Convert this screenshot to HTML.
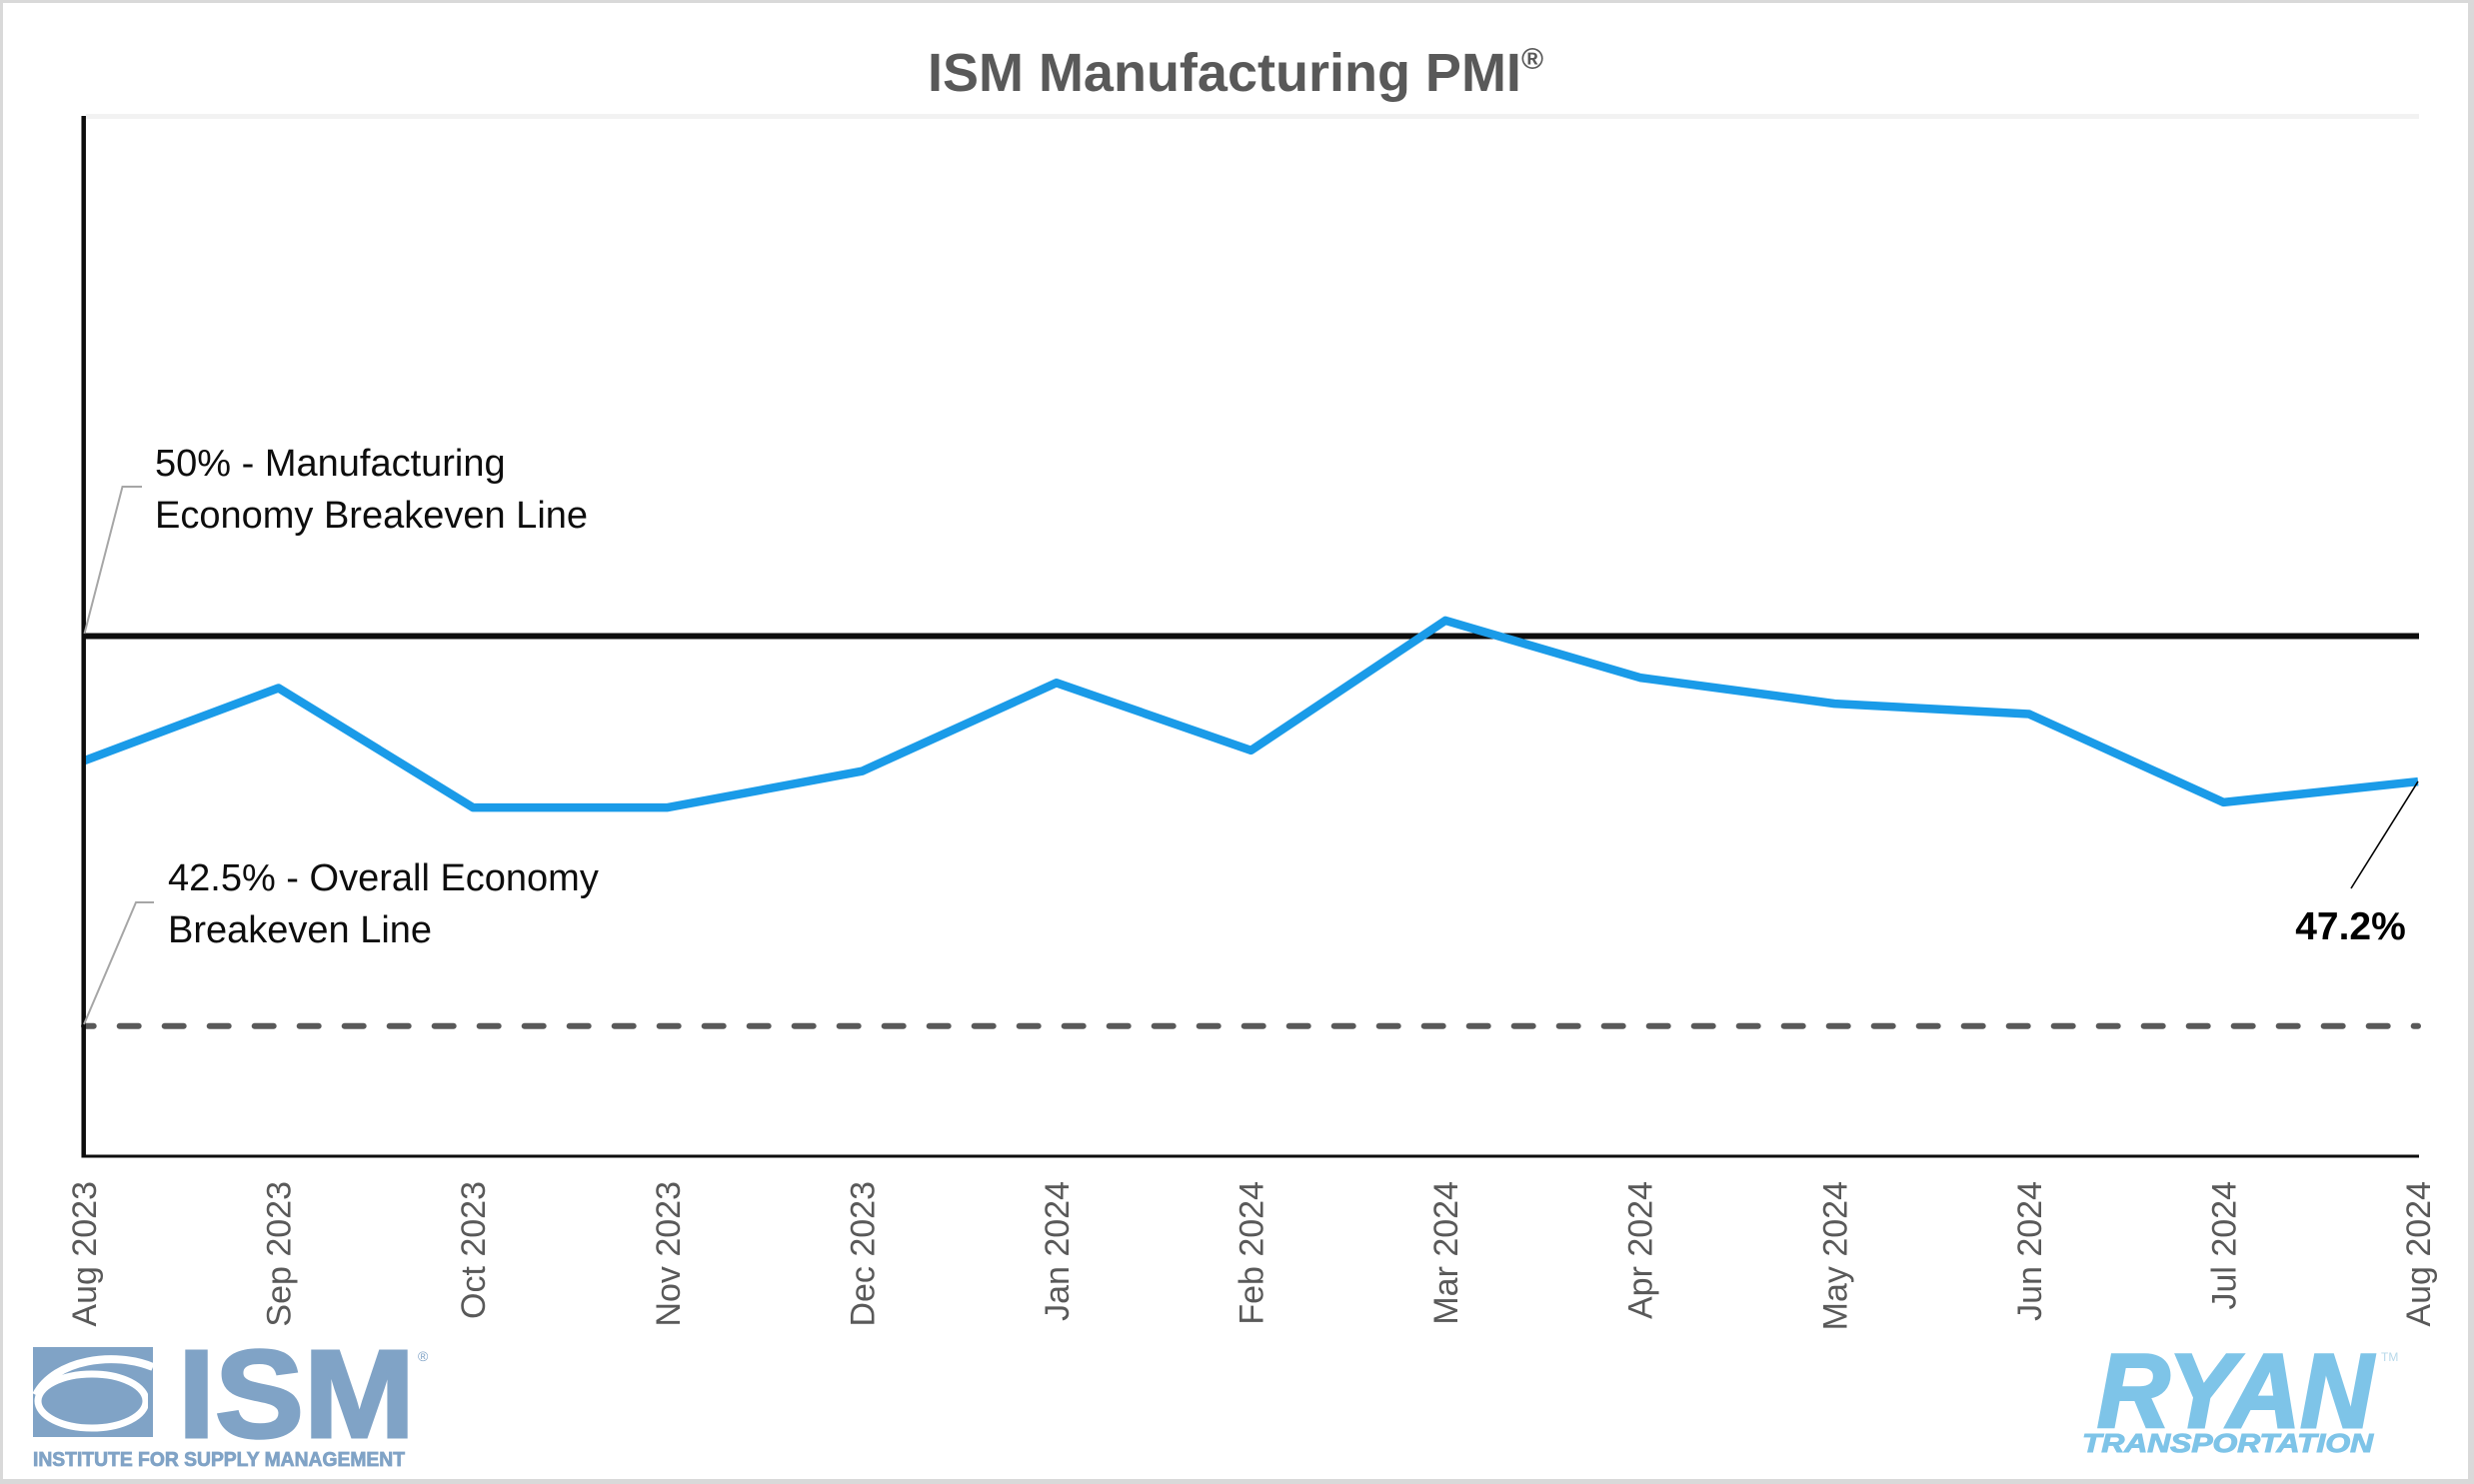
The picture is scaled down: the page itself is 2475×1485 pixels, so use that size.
<!DOCTYPE html>
<html>
<head>
<meta charset="utf-8">
<style>
  html, body { margin: 0; padding: 0; background: #ffffff; }
  body { width: 2475px; height: 1485px; overflow: hidden; }
  svg { display: block; }
  text { font-family: "Liberation Sans", Arial, sans-serif; }
</style>
</head>
<body>
<svg width="2475" height="1485" viewBox="0 0 2475 1485" xmlns="http://www.w3.org/2000/svg">
  <rect x="0" y="0" width="2475" height="1485" fill="#ffffff"/>
  <!-- outer frame -->
  <rect x="0" y="0" width="2475" height="3" fill="#d9d9d9"/>
  <rect x="0" y="0" width="3" height="1485" fill="#d9d9d9"/>
  <rect x="2469" y="0" width="6" height="1485" fill="#d9d9d9"/>
  <rect x="0" y="1480" width="2475" height="5" fill="#d9d9d9"/>

  <!-- title -->
  <text x="1236" y="91" text-anchor="middle" font-size="54" font-weight="bold" fill="#595959">ISM Manufacturing PMI<tspan font-size="30" dy="-22">®</tspan></text>

  <!-- plot top faint line -->
  <rect x="86" y="114" width="2334" height="5" fill="#f2f2f2"/>

  <!-- dashed 42.5% line -->
  <line x1="84" y1="1026.7" x2="2419" y2="1026.7" stroke="#595959" stroke-width="6" stroke-dasharray="19 26" stroke-dashoffset="9.3" stroke-linecap="round"/>

  <!-- 50% line -->
  <line x1="84" y1="636.5" x2="2420" y2="636.5" stroke="#0d0d0d" stroke-width="6"/>

  <!-- data series -->
  <polyline fill="none" stroke="#1a9be8" stroke-width="8.5" stroke-linejoin="round"
    points="84,761.3 278.6,688.5 473.2,808.1 667.8,808.1 862.3,771.7 1056.9,683.3 1251.5,750.9 1446.1,620.9 1640.7,678.1 1835.3,704.1 2029.8,714.5 2224.4,802.9 2419,782.1"/>

  <!-- axes -->
  <line x1="83.7" y1="116" x2="83.7" y2="1158.5" stroke="#0d0d0d" stroke-width="4.5"/>
  <line x1="82" y1="1157" x2="2420" y2="1157" stroke="#0d0d0d" stroke-width="3"/>

  <!-- callout leaders -->
  <polyline points="84.5,634 122.5,487 142,487" fill="none" stroke="#a6a6a6" stroke-width="2"/>
  <polyline points="84,1025 136,903 154,903" fill="none" stroke="#a6a6a6" stroke-width="2"/>
  <line x1="2419" y1="782" x2="2352" y2="889" stroke="#000000" stroke-width="1.6"/>

  <!-- annotations -->
  <text x="155" y="476" font-size="38" fill="#0d0d0d">50% - Manufacturing</text>
  <text x="155" y="528" font-size="38" fill="#0d0d0d">Economy Breakeven Line</text>
  <text x="168" y="891" font-size="38" fill="#0d0d0d">42.5% - Overall Economy</text>
  <text x="168" y="943" font-size="38" fill="#0d0d0d">Breakeven Line</text>
  <text x="2351.5" y="940" text-anchor="middle" font-size="39" font-weight="bold" fill="#000000">47.2%</text>

  <!-- x-axis labels -->
  <g font-size="34" fill="#595959" text-anchor="end">
    <text transform="translate(84,1182) rotate(-90)" x="0" y="12">Aug 2023</text>
    <text transform="translate(278.58,1182) rotate(-90)" x="0" y="12">Sep 2023</text>
    <text transform="translate(473.17,1182) rotate(-90)" x="0" y="12">Oct 2023</text>
    <text transform="translate(667.75,1182) rotate(-90)" x="0" y="12">Nov 2023</text>
    <text transform="translate(862.33,1182) rotate(-90)" x="0" y="12">Dec 2023</text>
    <text transform="translate(1056.92,1182) rotate(-90)" x="0" y="12">Jan 2024</text>
    <text transform="translate(1251.5,1182) rotate(-90)" x="0" y="12">Feb 2024</text>
    <text transform="translate(1446.08,1182) rotate(-90)" x="0" y="12">Mar 2024</text>
    <text transform="translate(1640.67,1182) rotate(-90)" x="0" y="12">Apr 2024</text>
    <text transform="translate(1835.25,1182) rotate(-90)" x="0" y="12">May 2024</text>
    <text transform="translate(2029.83,1182) rotate(-90)" x="0" y="12">Jun 2024</text>
    <text transform="translate(2224.42,1182) rotate(-90)" x="0" y="12">Jul 2024</text>
    <text transform="translate(2419,1182) rotate(-90)" x="0" y="12">Aug 2024</text>
  </g>

  <!-- ISM logo -->
  <g>
    <rect x="33" y="1348" width="120" height="90" fill="#80a3c6"/>
    <ellipse cx="92" cy="1402" rx="54" ry="27" fill="none" stroke="#ffffff" stroke-width="7"/>
    <path d="M36,1396 C55,1360 115,1352 153,1368" fill="none" stroke="#ffffff" stroke-width="8"/>
    <rect x="148" y="1372" width="5" height="60" fill="#80a3c6"/>
    <text x="178" y="1438" font-size="125" font-weight="bold" fill="#80a3c6" stroke="#80a3c6" stroke-width="3" textLength="237" lengthAdjust="spacingAndGlyphs">ISM</text>
    <text x="418" y="1362" font-size="14" fill="#80a3c6">®</text>
    <text x="33" y="1467" font-size="20" font-weight="bold" fill="#80a3c6" stroke="#80a3c6" stroke-width="0.8" textLength="372" lengthAdjust="spacingAndGlyphs">INSTITUTE FOR SUPPLY MANAGEMENT</text>
  </g>

  <!-- RYAN logo -->
  <g fill="#7ec4e8">
    <text x="2098" y="1428" font-size="105" font-weight="bold" font-style="italic" stroke="#7ec4e8" stroke-width="3" textLength="276" lengthAdjust="spacingAndGlyphs">RYAN</text>
    <text x="2382" y="1362" font-size="12" fill="#b8d9ea">TM</text>
    <text x="2083" y="1453" font-size="25.5" font-weight="bold" font-style="italic" stroke="#7ec4e8" stroke-width="1" textLength="291" lengthAdjust="spacingAndGlyphs">TRANSPORTATION</text>
  </g>
</svg>
</body>
</html>
